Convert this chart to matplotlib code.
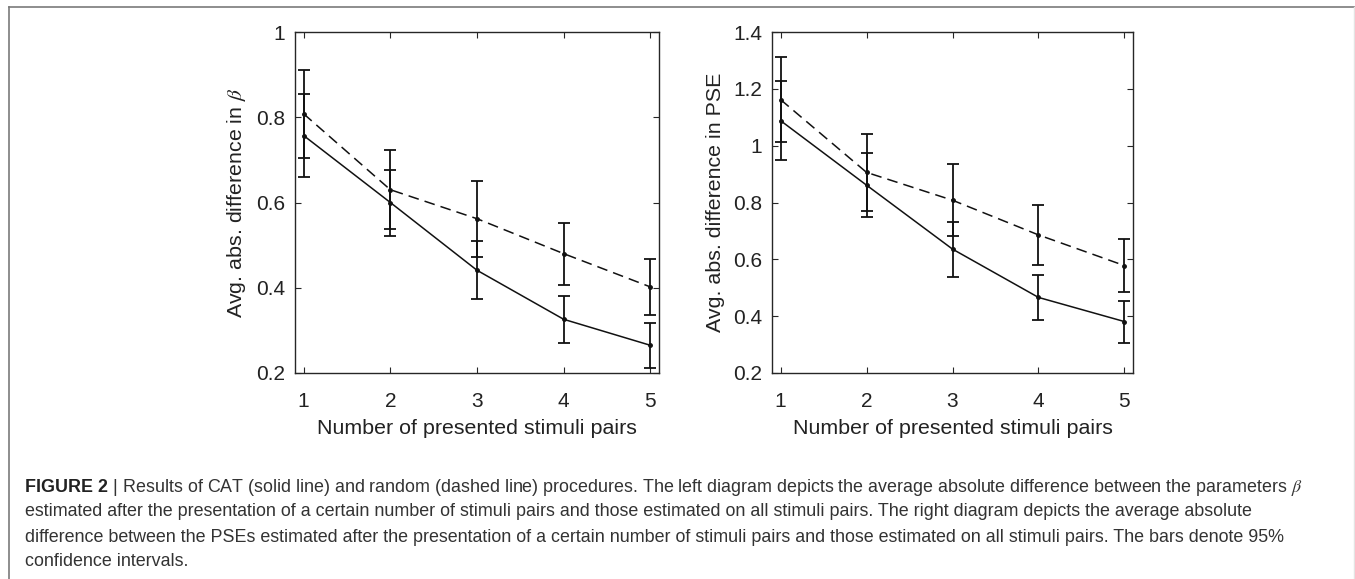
import matplotlib
matplotlib.use('Agg')
import matplotlib.pyplot as plt
from matplotlib.lines import Line2D
import numpy as np

plt.rcParams['font.family'] = ['Liberation Sans', 'DejaVu Sans']
plt.rcParams['mathtext.fontset'] = 'stix'

# data
n_pairs = [1, 2, 3, 4, 5]

# left: avg. abs. difference in beta
beta_cat = [0.757, 0.600, 0.441, 0.326, 0.265]
beta_cat_lo = [0.660, 0.521, 0.373, 0.271, 0.212]
beta_cat_hi = [0.854, 0.676, 0.510, 0.381, 0.317]
beta_rnd = [0.808, 0.630, 0.562, 0.480, 0.402]
beta_rnd_lo = [0.705, 0.537, 0.473, 0.406, 0.336]
beta_rnd_hi = [0.912, 0.723, 0.650, 0.553, 0.467]

# right: avg. abs. difference in PSE
pse_cat = [1.088, 0.861, 0.636, 0.466, 0.381]
pse_cat_lo = [0.949, 0.749, 0.539, 0.387, 0.307]
pse_cat_hi = [1.228, 0.973, 0.733, 0.545, 0.455]
pse_rnd = [1.162, 0.906, 0.808, 0.686, 0.578]
pse_rnd_lo = [1.012, 0.771, 0.681, 0.580, 0.484]
pse_rnd_hi = [1.311, 1.041, 0.934, 0.791, 0.672]

beta_ticks = [0.2, 0.4, 0.6, 0.8, 1.0]
beta_ticklabels = ['0.2', '0.4', '0.6', '0.8', '1']
pse_ticks = [0.2, 0.4, 0.6, 0.8, 1.0, 1.2, 1.4]
pse_ticklabels = ['0.2', '0.4', '0.6', '0.8', '1', '1.2', '1.4']

xlabel = 'Number of presented stimuli pairs'
caption_first = ('| Results of CAT (solid line) and random (dashed line) procedures. The left diagram depicts the '
                 r'average absolute difference between the parameters $\beta$')
caption_lines = [
    'estimated after the presentation of a certain number of stimuli pairs and those estimated on all stimuli pairs. '
    'The right diagram depicts the average absolute',
    'difference between the PSEs estimated after the presentation of a certain number of stimuli pairs and those '
    'estimated on all stimuli pairs. The bars denote 95%',
    'confidence intervals.',
]

W, H = 1355, 579
fig = plt.figure(figsize=(W / 100, H / 100), dpi=100)

axL = fig.add_axes([295 / W, 1 - 373 / H, 364 / W, 341 / H])
axR = fig.add_axes([772 / W, 1 - 373 / H, 361 / W, 341 / H])

spine_c = '#262626'
txt_c = '#222222'
for ax, m1, lo1, hi1, m2, lo2, hi2, yt, ytl, ylim, ylab in [
        (axL, beta_cat, beta_cat_lo, beta_cat_hi, beta_rnd, beta_rnd_lo, beta_rnd_hi,
         beta_ticks, beta_ticklabels, (0.2, 1.0), r'Avg. abs. difference in $\beta$'),
        (axR, pse_cat, pse_cat_lo, pse_cat_hi, pse_rnd, pse_rnd_lo, pse_rnd_hi,
         pse_ticks, pse_ticklabels, (0.2, 1.4), 'Avg. abs. difference in PSE')]:
    m1 = np.array(m1); m2 = np.array(m2)
    err1 = [m1 - np.array(lo1), np.array(hi1) - m1]
    err2 = [m2 - np.array(lo2), np.array(hi2) - m2]
    ax.errorbar(n_pairs, m1, yerr=err1, color='#111111', lw=1.1, elinewidth=1.3,
                capsize=4.5, capthick=1.3, marker='.', markersize=5, linestyle='-')
    ax.errorbar(n_pairs, m2, yerr=err2, color='#111111', lw=1.1, elinewidth=1.3,
                capsize=4.5, capthick=1.3, marker='.', markersize=5, linestyle=(0, (7, 4)))
    ax.set_xlim(0.9, 5.1)
    ax.set_ylim(*ylim)
    ax.set_xticks(n_pairs)
    ax.set_yticks(yt)
    ax.set_yticklabels(ytl)
    ax.tick_params(direction='in', top=True, right=True, length=4, width=0.8,
                   color=spine_c, labelsize=15, labelcolor=txt_c)
    ax.tick_params(axis='x', pad=13.5)
    ax.tick_params(axis='y', pad=7)
    for s in ax.spines.values():
        s.set_color(spine_c)
        s.set_linewidth(1.0)
    ax.set_xlabel(xlabel, fontsize=15.4, color=txt_c, labelpad=6)
    ax.set_ylabel(ylab, fontsize=15.4, color=txt_c, labelpad=6)

# frame lines of the figure box
fig.add_artist(Line2D([9 / W, 1], [1 - 7 / H, 1 - 7 / H], color='#7a7a7a', lw=1.2))
fig.add_artist(Line2D([9 / W, 9 / W], [0, 1 - 7 / H], color='#7a7a7a', lw=1.2))
fig.add_artist(Line2D([1354 / W, 1354 / W], [0, 1 - 7 / H], color='#e4e4e4', lw=1.0))

# caption
cap_c = '#333333'
cap_fs = 12.9
t0 = fig.text(25 / W, 1 - 487 / H, 'FIGURE 2', fontsize=cap_fs, fontweight='bold',
              color=txt_c, va='center', ha='left')
fig.add_artist(plt.Annotation(' ' + caption_first, xy=(1, 0.5), xycoords=t0, va='center',
                              ha='left', fontsize=cap_fs, color=cap_c, annotation_clip=False))
for i, line in enumerate(caption_lines):
    fig.text(25 / W, 1 - (512 + 25 * i) / H, line, fontsize=cap_fs, color=cap_c,
             va='center', ha='left')

fig.savefig('out.png', dpi=100, facecolor='white')
